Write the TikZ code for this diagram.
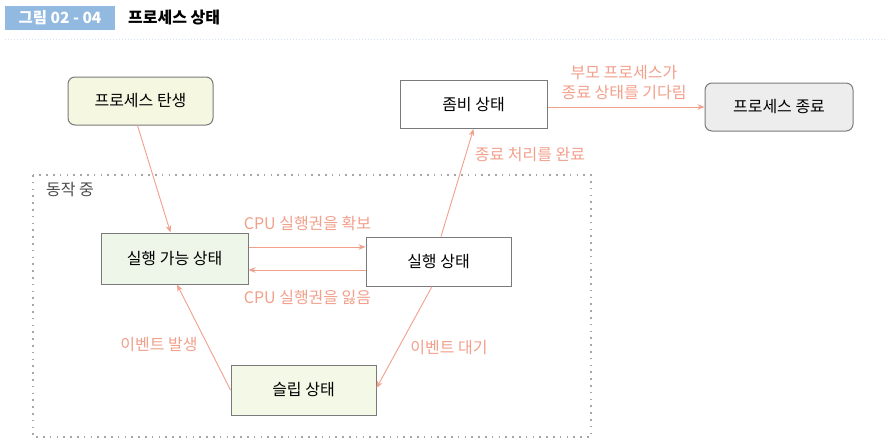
\documentclass[tikz,border=0pt]{standalone}
\usepackage{fontspec}
\setmainfont{Noto Sans CJK KR}
\usetikzlibrary{arrows.meta}
\definecolor{salmon}{HTML}{F2A08C}
\definecolor{boxgray}{HTML}{7A7A7A}
\definecolor{headblue}{HTML}{92BAE0}
\definecolor{birthfill}{HTML}{F5F7E1}
\definecolor{readyfill}{HTML}{EEF6EA}
\definecolor{sleepfill}{HTML}{F4F8E6}
\definecolor{endfill}{HTML}{EDEDED}
\begin{document}
\begin{tikzpicture}[x=1pt,y=-1pt,
  txt/.style={font=\fontsize{16}{20}\selectfont},
  box/.style={txt,draw=boxgray,line width=1pt,inner sep=0pt,minimum width=146pt,minimum height=49pt},
  roundbox/.style={box,rounded corners=7pt},
  flow/.style={draw=salmon,line width=0.9pt,-{Stealth[length=7pt,width=5.5pt]}},
  note/.style={txt,text=salmon,inner sep=0pt}]
\useasboundingbox[fill=white] (0,0) rectangle (890,444);
\fill[headblue] (5,6) rectangle (115,30);
\node[font=\fontsize{15.5}{18}\selectfont\bfseries,text=white] (fig) at (60,18) {그림 02 - 04};
\node[font=\fontsize{16}{19}\selectfont\bfseries,anchor=west,inner sep=0pt] (title) at (128,18) {프로세스 상태};
\draw[headblue!40,line width=1pt,dash pattern=on 1pt off 2pt] (5,40) -- (885,40);
\draw[black!35,line width=1.6pt,dash pattern=on 1.6pt off 5.2pt] (33,175) rectangle (591,437);
\node[txt,text=black!70] (running) at (70,190) {동작 중};
\node[roundbox,fill=birthfill,minimum width=145pt,minimum height=48pt] (birth) at (140.5,101) {프로세스 탄생};
\node[box,fill=white,minimum width=147pt,minimum height=48pt] (zombie) at (473.5,104.5) {좀비 상태};
\node[roundbox,fill=endfill,minimum width=148pt,minimum height=48pt] (endp) at (779,107) {프로세스 종료};
\node[box,fill=readyfill,minimum width=147pt,minimum height=51pt] (ready) at (174.5,258.5) {실행 가능 상태};
\node[box,fill=white,minimum width=145pt,minimum height=49pt] (run) at (438.5,261.5) {실행 상태};
\node[box,fill=sleepfill,minimum width=145pt,minimum height=50pt] (sleep) at (303.5,390) {슬립 상태};
\draw[flow] ([xshift=-3pt]birth.south) -- ([xshift=-4pt]ready.north);
\draw[flow] ([xshift=2.5pt]run.north) -- (zombie.south);
\draw[flow] ([yshift=-2.5pt]zombie.east) -- (endp.west);
\draw[flow] ([yshift=11.5pt]ready.east) -- ([yshift=14.5pt]run.west);
\draw[flow] ([yshift=-8.5pt]run.west) -- ([yshift=-11.5pt]ready.east);
\draw[flow] ([xshift=-6.5pt]run.south) -- ([yshift=2pt]sleep.east);
\draw[flow] (sleep.west) -- ([xshift=2.5pt]ready.south);
\node[note] (done) at (530,155) {종료 처리를 완료};
\node[note,align=center] (wait) at (624,83) {부모 프로세스가\\종료 상태를 기다림};
\node[note] (gain) at (307.5,223) {CPU 실행권을 확보};
\node[note] (lose) at (307.5,297) {CPU 실행권을 잃음};
\node[note] (occur) at (159,345) {이벤트 발생};
\node[note] (waitev) at (449,348) {이벤트 대기};
\end{tikzpicture}
\end{document}
